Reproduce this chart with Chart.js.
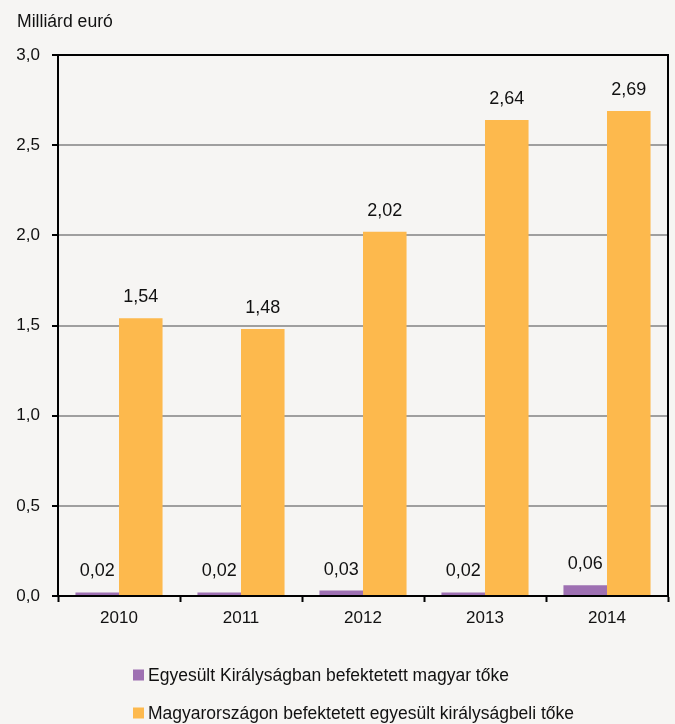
<!DOCTYPE html>
<html>
<head>
<meta charset="utf-8">
<script src="https://cdn.jsdelivr.net/npm/chart.js@4"></script>
<style>
  html, body { margin: 0; padding: 0; background: #f6f5f3; }
  #wrap { width: 675px; height: 724px; }
</style>
</head>
<body>
<div id="wrap"><canvas id="chart" width="675" height="724"></canvas></div>
<script>
// Adatok
const years = ['2010', '2011', '2012', '2013', '2014'];
const ukInvest = [0.02, 0.02, 0.03, 0.02, 0.06];     // Egyesült Királyságban befektetett magyar tőke
const huInvest = [1.54, 1.48, 2.02, 2.64, 2.69];     // Magyarországon befektetett egyesült királyságbeli tőke
const seriesNames = [
    'Egyesült Királyságban befektetett magyar tőke',
    'Magyarországon befektetett egyesült királyságbeli tőke'
];
const unitLabel = 'Milliárd euró';

const FONT = "'Liberation Sans', Arial, sans-serif";
const colors = ['#9e70b2', '#fdb94d'];

// vesszős tizedes formátum
function fmt(v, d) {
    return v.toFixed(d).replace('.', ',');
}

// Címkék az oszlopok fölött, keret, mértékegység és jelmagyarázat
const extras = {
    id: 'extras',
    afterDatasetsDraw(chart) {
        const ctx = chart.ctx;
        const a = chart.chartArea;
        ctx.save();
        // keret
        ctx.strokeStyle = '#000';
        ctx.lineWidth = 2;
        ctx.strokeRect(a.left, a.top, a.right - a.left, a.bottom - a.top);

        // értékek
        ctx.fillStyle = '#111';
        ctx.font = '18px ' + FONT;
        ctx.textAlign = 'center';
        ctx.textBaseline = 'alphabetic';
        chart.data.datasets.forEach((ds, i) => {
            chart.getDatasetMeta(i).data.forEach((bar, j) => {
                ctx.fillText(fmt(ds.data[j], 2), bar.x, bar.y - 16);
            });
        });

        // mértékegység
        ctx.font = '17.6px ' + FONT;
        ctx.textAlign = 'left';
        ctx.fillText(unitLabel, 17, 27);

        // jelmagyarázat
        ctx.font = '17.5px ' + FONT;
        const rows = [675, 713];
        chart.data.datasets.forEach((ds, i) => {
            const y = rows[i];
            ctx.fillStyle = ds.backgroundColor;
            ctx.fillRect(133, y - 5.5, 11, 11);
            ctx.fillStyle = '#111';
            ctx.textBaseline = 'middle';
            ctx.fillText(ds.label, 148, y + 1);
        });
        ctx.restore();
    }
};

new Chart(document.getElementById('chart'), {
    type: 'bar',
    data: {
        labels: years,
        datasets: [
            { label: seriesNames[0], data: ukInvest, backgroundColor: colors[0] },
            { label: seriesNames[1], data: huInvest, backgroundColor: colors[1] }
        ]
    },
    options: {
        responsive: false,
        animation: false,
        layout: { padding: { left: 0, top: 55, right: 7, bottom: 88 } },
        datasets: {
            bar: { categoryPercentage: 0.714, barPercentage: 1.0 }
        },
        plugins: {
            legend: { display: false },
            tooltip: { enabled: false }
        },
        scales: {
            x: {
                afterFit: s => { s.height = 40; },
                grid: {
                    offset: true,
                    drawOnChartArea: false,
                    drawTicks: true,
                    tickLength: 6,
                    tickColor: '#000',
                    tickWidth: 2
                },
                border: { display: true, color: '#000', width: 2 },
                ticks: {
                    color: '#111',
                    padding: 6,
                    font: { family: FONT, size: 17 }
                }
            },
            y: {
                min: 0,
                max: 3,
                afterFit: s => { s.width = 58; },
                grid: {
                    color: '#9f9f9f',
                    lineWidth: 2,
                    drawTicks: true,
                    tickLength: 6,
                    tickColor: '#000',
                    tickWidth: 2
                },
                border: { display: true, color: '#000', width: 2 },
                ticks: {
                    stepSize: 0.5,
                    color: '#111',
                    padding: 12,
                    font: { family: FONT, size: 17 },
                    callback: v => fmt(v, 1)
                }
            }
        }
    },
    plugins: [extras]
});
</script>
</body>
</html>
